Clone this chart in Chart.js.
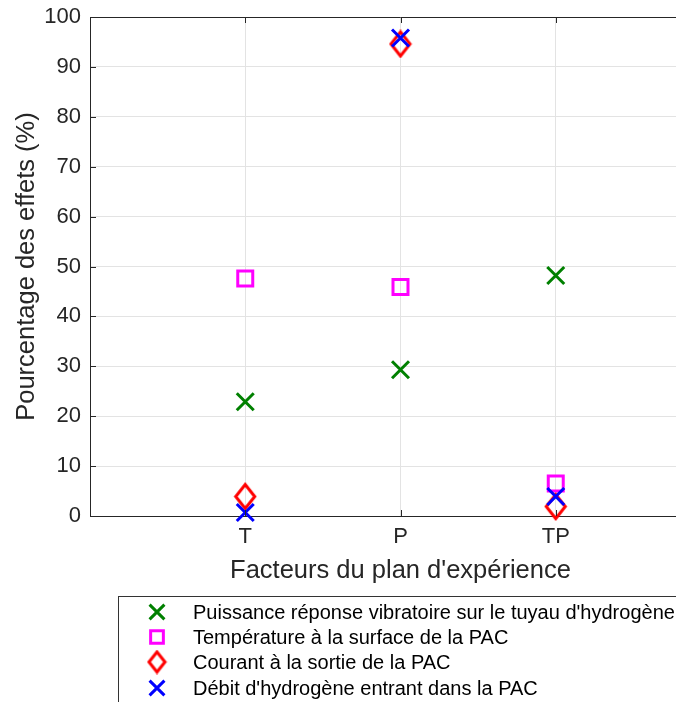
<!DOCTYPE html>
<html><head><meta charset="utf-8">
<script src="https://cdn.jsdelivr.net/npm/chart.js@4/dist/chart.umd.min.js"></script>
<style>html,body{margin:0;padding:0;overflow:hidden;background:#fff;width:676px;height:702px}canvas{display:block}</style>
</head><body>
<canvas id="c" width="726" height="702"></canvas>
<script>
const categories = ['T', 'P', 'TP'];
const xTitle = "Facteurs du plan d'expérience";
const yTitle = 'Pourcentage des effets (%)';
const seriesNames = [
  "Puissance réponse vibratoire sur le tuyau d'hydrogène",
  'Température à la surface de la PAC',
  'Courant à la sortie de la PAC',
  "Débit d'hydrogène entrant dans la PAC"
];
const puissance = [22.9, 29.3, 48.2];
const temperature = [47.6, 45.9, 6.5];
const courant = [3.9, 94.6, 1.9];
const debit = [0.7, 95.8, 3.9];

const FONT = "'Liberation Sans', Arial, Helvetica, sans-serif";
const AX = '#262626';

function diamondCanvas(color, hw, hh, lw) {
  const c = document.createElement('canvas');
  c.width = Math.ceil(2 * hw + lw + 2);
  c.height = Math.ceil(2 * hh + lw + 2);
  const g = c.getContext('2d');
  const cx = c.width / 2, cy = c.height / 2;
  g.strokeStyle = color; g.lineWidth = lw; g.lineJoin = 'miter';
  g.beginPath();
  g.moveTo(cx, cy - hh); g.lineTo(cx + hw, cy); g.lineTo(cx, cy + hh); g.lineTo(cx - hw, cy); g.closePath();
  g.stroke();
  return c;
}
const diamondPlot = diamondCanvas('#ff0000', 9.5, 12, 3);
const diamondLegend = diamondCanvas('#ff0000', 8, 10, 3);

function pts(arr) { return arr.map((v, i) => ({ x: i + 1, y: v })); }

const datasets = [
  { label: seriesNames[0], data: pts(puissance), pointStyle: 'crossRot', pointRadius: 12, borderColor: '#008000', order: 3, legendRadius: 10.5 },
  { label: seriesNames[1], data: pts(temperature), pointStyle: 'rect', pointRadius: 10.6, borderColor: '#ff00ff', order: 2, legendRadius: 9 },
  { label: seriesNames[2], data: pts(courant), pointStyle: diamondPlot, pointRadius: 12, borderColor: '#ff0000', order: 1, legendStyle: diamondLegend },
  { label: seriesNames[3], data: pts(debit), pointStyle: 'crossRot', pointRadius: 12, borderColor: '#0000ff', order: 0, legendRadius: 10.5 }
].map(d => Object.assign({ backgroundColor: 'rgba(0,0,0,0)', pointBorderWidth: 3, pointHoverRadius: d.pointRadius, showLine: false, clip: false, borderWidth: 3 }, d));

const decor = {
  id: 'decor',
  afterDraw(chart) {
    const ctx = chart.ctx, a = chart.chartArea;
    const xs = chart.scales.x, ys = chart.scales.y;
    ctx.save();
    ctx.strokeStyle = AX; ctx.lineWidth = 1;
    const top = Math.round(a.top) + 0.5;
    ctx.beginPath(); ctx.moveTo(a.left, top); ctx.lineTo(a.right, top); ctx.stroke();
    const right = Math.round(a.right) - 0.5;
    ctx.beginPath(); ctx.moveTo(right, a.top); ctx.lineTo(right, a.bottom); ctx.stroke();
    // inner ticks
    const L = 6;
    ys.ticks.forEach(t => {
      const y = Math.round(ys.getPixelForValue(t.value)) + 0.5;
      ctx.beginPath(); ctx.moveTo(a.left, y); ctx.lineTo(a.left + L, y); ctx.moveTo(a.right, y); ctx.lineTo(a.right - L, y); ctx.stroke();
    });
    xs.ticks.forEach(t => {
      const x = Math.round(xs.getPixelForValue(t.value)) + 0.5;
      ctx.beginPath(); ctx.moveTo(x, a.bottom); ctx.lineTo(x, a.bottom - L); ctx.moveTo(x, a.top); ctx.lineTo(x, a.top + L); ctx.stroke();
    });
    // titles
    ctx.fillStyle = AX;
    ctx.font = '25.5px ' + FONT;
    ctx.textAlign = 'center'; ctx.textBaseline = 'middle';
    ctx.fillText(xTitle, (a.left + a.right) / 2, 571);
    ctx.save();
    ctx.translate(27, (a.top + a.bottom) / 2);
    ctx.rotate(-Math.PI / 2);
    ctx.fillText(yTitle, 0, 0);
    ctx.restore();
    // legend
    ctx.strokeStyle = '#333'; ctx.lineWidth = 1;
    ctx.strokeRect(118.5, 596.5, 700, 200);
    const rows = [612, 637, 662, 688];
    ctx.font = '20px ' + FONT;
    ctx.textAlign = 'left';
    chart.data.datasets.forEach((d, i) => {
      const y = rows[i];
      ctx.save();
      ctx.strokeStyle = d.borderColor; ctx.fillStyle = 'rgba(0,0,0,0)'; ctx.lineWidth = 3;
      Chart.helpers.drawPoint(ctx, { pointStyle: d.legendStyle || d.pointStyle, radius: d.legendRadius || 10, rotation: 0, borderWidth: 3 }, 157, y);
      ctx.restore();
      ctx.fillStyle = '#000';
      ctx.fillText(d.label, 193, y + 1);
    });
    ctx.restore();
  }
};

new Chart(document.getElementById('c'), {
  type: 'scatter',
  data: { datasets },
  options: {
    responsive: false,
    animation: false,
    devicePixelRatio: 1,
    layout: { padding: { top: 17, right: 10, left: 0, bottom: 0 } },
    plugins: { legend: { display: false }, tooltip: { enabled: false } },
    scales: {
      x: {
        type: 'linear', min: 0, max: 4,
        afterBuildTicks: s => { s.ticks = categories.map((c, i) => ({ value: i + 1 })); },
        afterFit: s => { s.height = 186; s.paddingLeft = 0; s.paddingRight = 0; },
        ticks: { callback: (v, i) => categories[i], font: { family: FONT, size: 22 }, color: AX, padding: 8, maxRotation: 0, autoSkip: false },
        grid: { color: '#e3e3e3', drawTicks: false, lineWidth: 1 },
        border: { color: AX, width: 1 }
      },
      y: {
        min: 0, max: 100,
        afterFit: s => { s.width = 90; s.paddingTop = 0; s.paddingBottom = 0; },
        ticks: { stepSize: 10, font: { family: FONT, size: 22 }, color: AX, padding: 9 },
        grid: { color: '#e3e3e3', drawTicks: false, lineWidth: 1 },
        border: { color: AX, width: 1 }
      }
    }
  },
  plugins: [decor]
});
</script>
</body></html>
